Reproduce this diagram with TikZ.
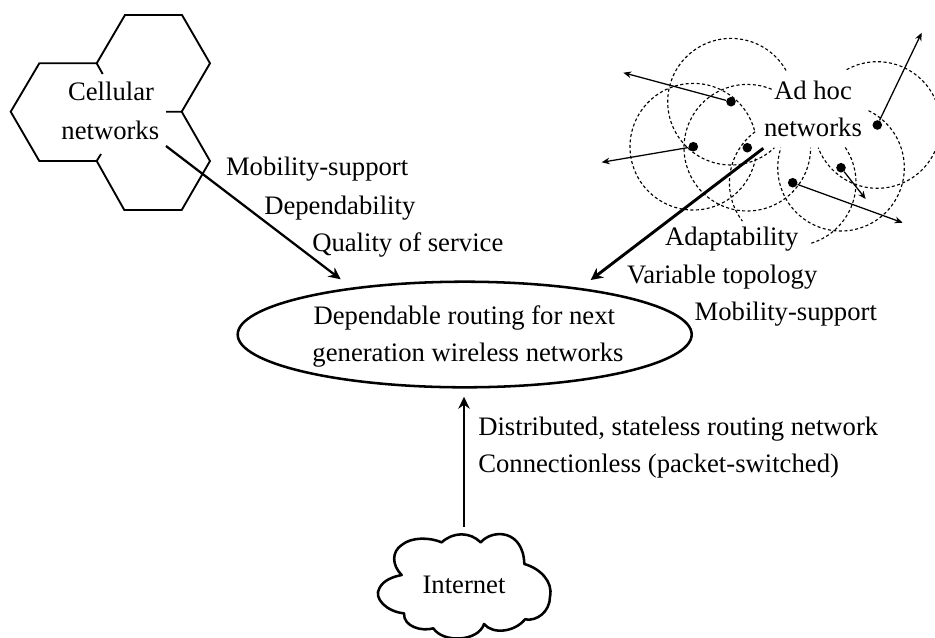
\documentclass[tikz,border=0pt]{standalone}
\usepackage{fontspec}
\setmainfont{Liberation Serif}
\usetikzlibrary{arrows.meta}
\tikzset{
  lbl/.style={inner sep=0pt,outer sep=0pt,font=\fontsize{20}{24}\selectfont},
  lbll/.style={lbl,anchor=base west},
  lblc/.style={lbl,anchor=base},
  hexline/.style={line width=1.4pt,line join=miter},
  rangeline/.style={dash pattern=on 2.3pt off 1.8pt,line width=0.85pt},
  mnode/.style={circle,fill=black,inner sep=0pt,minimum size=7.2pt},
  mvarrow/.style={line width=0.95pt,-{Stealth[length=6pt,width=5pt]}},
  bigarrow/.style={line width=2.2pt,-{Stealth[length=9pt,width=9pt]}},
  midarrow/.style={line width=1.7pt,-{Stealth[length=9pt,width=8.5pt]}},
  shapeline/.style={line width=1.9pt}
}
\begin{document}
\begin{tikzpicture}[x=0.75pt,y=-0.75pt]
\path[use as bounding box] (0,0) rectangle (935,637);
\begin{scope}
\clip (0,0) rectangle (935,637);
% hexagons
\draw[hexline] (166,111.7) -- (181.7,111.7) -- (210,63.3) -- (182,15) -- (125,15) -- (96.7,63.3) -- (102.7,74);
\draw[hexline] (96.7,63.3) -- (39.3,63.3) -- (10.7,111.7) -- (39.3,161) -- (96.7,161) -- (101,154);
\draw[hexline] (181.7,111.7) -- (210,161) -- (181.7,210) -- (124.3,210) -- (96.7,161);
% mobile nodes
\node[mnode] (na) at (731,101.7) {};
\node[mnode] (nb) at (693.3,146.7) {};
\node[mnode] (nc) at (747.3,147.7) {};
\node[mnode] (nd) at (792.7,182.7) {};
\node[mnode] (ne) at (841,167.7) {};
\node[mnode] (nf) at (877.3,125) {};
\coordinate (ma) at (623.3,72.7);
\coordinate (mb) at (601.7,162.3);
\coordinate (md) at (902.7,222.7);
\coordinate (me) at (865.7,199);
\coordinate (mf) at (921.7,32.7);
% ranges
\def\rr{63.3}
\draw[rangeline] (na.center) ++(29.6:\rr*0.75pt) arc[start angle=29.6,end angle=313.3,radius=\rr*0.75pt];
\draw[rangeline] (nb.center) ++(15:\rr*0.75pt) arc[start angle=15,end angle=351,radius=\rr*0.75pt];
\draw[rangeline] (nc.center) ++(67.4:\rr*0.75pt) arc[start angle=67.4,end angle=360,radius=\rr*0.75pt];
\draw[rangeline] (nd.center) ++(33.8:\rr*0.75pt) arc[start angle=33.8,end angle=-74.3,radius=\rr*0.75pt];
\draw[rangeline] (nd.center) ++(126.4:\rr*0.75pt) arc[start angle=126.4,end angle=217.4,radius=\rr*0.75pt];
\draw[rangeline] (ne.center) ++(64.2:\rr*0.75pt) arc[start angle=64.2,end angle=-198.4,radius=\rr*0.75pt];
\draw[rangeline] (nf.center) ++(119:\rr*0.75pt) arc[start angle=119,end angle=-159,radius=\rr*0.75pt];
\draw[mvarrow] (na) -- (ma);
\draw[mvarrow] (nb) -- (mb);
\draw[mvarrow] (nd) -- (md);
\draw[mvarrow] (ne) -- (me);
\draw[mvarrow] (nf) -- (mf);
% central ellipse
\draw[shapeline] (464.7,334.5) ellipse[x radius=227*0.75pt,y radius=52.8*0.75pt];
\node[lblc] (t1) at (464.3,324.3) {Dependable routing for next};
\node[lblc] (t2) at (468,361.7) {generation wireless networks};
% cloud
\begin{scope}[shift={(340,480)},scale=1/3]
\draw[shapeline,line join=round] (305,187)
  .. controls (340,155) and (390,155) .. (422,187)
  .. controls (460,145) and (550,150) .. (553,252)
  .. controls (600,265) and (640,305) .. (630,350)
  .. controls (630,395) and (590,425) .. (555,418)
  .. controls (525,455) and (460,465) .. (432,432)
  .. controls (415,485) and (310,490) .. (280,445)
  .. controls (245,455) and (190,440) .. (192,400)
  .. controls (140,395) and (100,355) .. (118,325)
  .. controls (130,300) and (160,290) .. (185,285)
  .. controls (155,255) and (155,215) .. (185,195)
  .. controls (215,170) and (270,172) .. (305,187) -- cycle;
\end{scope}
% labels
\node[lblc] (cell1) at (111,100.7) {Cellular};
\node[lblc] (cell2) at (110.3,139) {networks};
\node[lblc] (ah1) at (813,99) {Ad hoc};
\node[lblc] (ah2) at (813,136.7) {networks};
\node[lbll] (l1) at (226,175.7) {Mobility-support};
\node[lbll] (l2) at (264.3,214.3) {Dependability};
\node[lbll] (l3) at (312.3,251.7) {Quality of service};
\node[lbll] (r1) at (665,245.7) {Adaptability};
\node[lbll] (r2) at (627,283.3) {Variable topology};
\node[lbll] (r3) at (694.7,320) {Mobility-support};
\node[lbll] (b1) at (478.3,435) {Distributed, stateless routing network};
\node[lbll] (b2) at (478.3,472.3) {Connectionless (packet-switched)};
\node[lblc] (inet) at (464,593) {Internet};
% connectors
\coordinate (cellout) at (166,146);
\coordinate (celltip) at (340.7,279.3);
\coordinate (ahout) at (763.3,148.3);
\coordinate (ahtip) at (590.7,280);
\coordinate (inout) at (464,526.7);
\coordinate (intip) at (464,396.7);
\draw[midarrow] (cellout) -- (celltip);
\draw[bigarrow] (ahout) -- (ahtip);
\draw[midarrow] (inout) -- (intip);
\end{scope}
\end{tikzpicture}
\end{document}
